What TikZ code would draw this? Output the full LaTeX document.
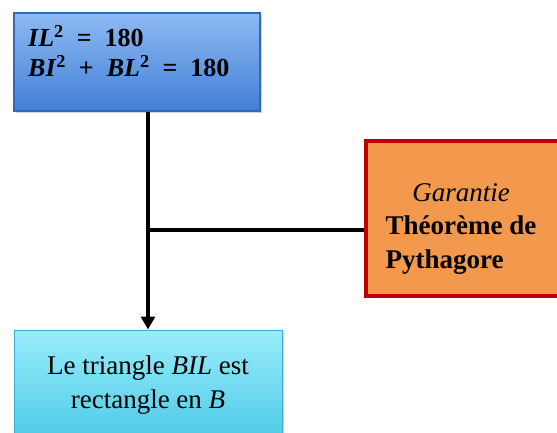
\documentclass[tikz,border=0pt]{standalone}
\usepackage{fontspec}
\setmainfont{Liberation Serif}
\usetikzlibrary{arrows.meta,shadows}
\definecolor{topA}{HTML}{8DBAF3}
\definecolor{topB}{HTML}{437FD6}
\definecolor{topE}{HTML}{3568BA}
\definecolor{botA}{HTML}{9AEDFB}
\definecolor{botB}{HTML}{3FC3E3}
\definecolor{botE}{HTML}{3AADD0}
\definecolor{orFill}{HTML}{F2994E}
\definecolor{orEdge}{HTML}{C00000}
\tikzset{
  boxbase/.style={draw, rectangle, inner sep=0pt, drop shadow={shadow xshift=2pt, shadow yshift=-2pt, opacity=0.35}},
  conn/.style={line width=4pt, black},
  txt/.style={font=\fontsize{27}{33.5}\selectfont, inner sep=0pt}
}
\newcommand{\sqr}{\textsuperscript{\upshape 2}}
\begin{document}
\begin{tikzpicture}[x=1pt,y=-1pt]
\useasboundingbox (0,0) rectangle (557,433);
\clip (0,0) rectangle (557,433);
% top box
\node[boxbase, line width=1.2pt, draw=topE, top color=topA, bottom color=topB,
      minimum width=246pt, minimum height=98pt] (top) at (137,62) {};
\node[txt, font=\fontsize{26}{30}\selectfont\bfseries, anchor=base west, align=left] (toptxt) at (28,77)
  {\textit{IL}\sqr\enspace=\enspace180\\
   \textit{BI}\sqr\enspace+\enspace\textit{BL}\sqr\enspace=\enspace180};
% right box
\node[boxbase, line width=4.5pt, draw=orEdge, fill=orFill,
      minimum width=240pt, minimum height=155pt] (just) at (486,218.5) {};
\node[txt, align=left] (justtxt) at (461,228)
  {\begin{tabular}{@{}l@{}}\multicolumn{1}{@{}c@{}}{\itshape Garantie}\\
   \bfseries Théorème de\\ \bfseries Pythagore\end{tabular}};
% bottom box
\node[boxbase, line width=1pt, draw=botE, top color=botA, bottom color=botB,
      minimum width=268pt, minimum height=130pt] (res) at (148,395) {};
\node[txt, align=center] (restxt) at (148,385)
  {Le triangle \textit{BIL} est\\ rectangle en \textit{B}};
% connectors
\coordinate (j) at (148,230);
\draw[conn, -{Triangle[length=13pt,width=14pt]}] (top.south -| j) -- (res.north -| j);
\draw[conn] (j) -- (j -| just.west);
\end{tikzpicture}
\end{document}
